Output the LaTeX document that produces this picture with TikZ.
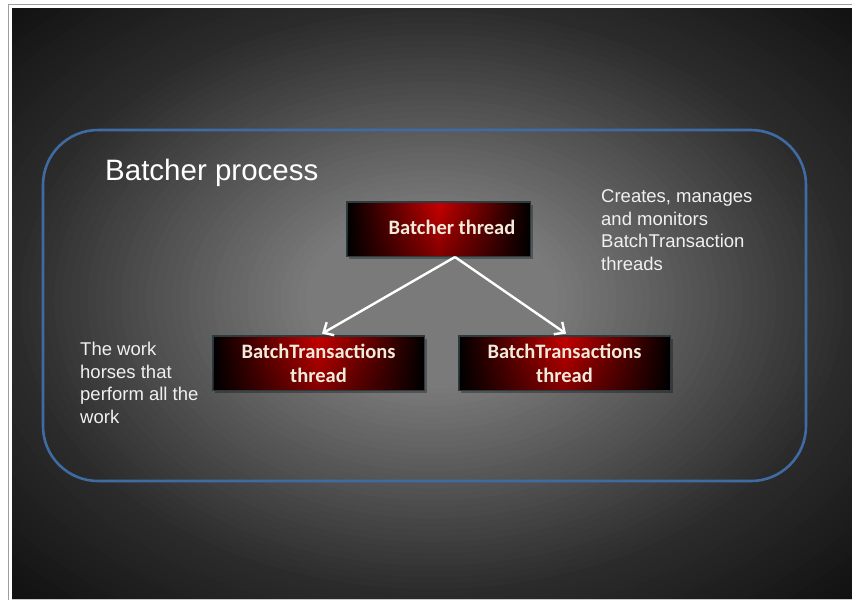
\documentclass[tikz,border=0pt]{standalone}
\usepackage{fontspec}
\setmainfont{Liberation Sans}
\newfontfamily\calib{Carlito}
\usetikzlibrary{arrows.meta,fadings}
\definecolor{frameblue}{RGB}{63,106,162}
\definecolor{boxred}{RGB}{200,0,0}
\definecolor{cream}{RGB}{242,234,218}
\definecolor{boxedge}{RGB}{45,58,64}
\definecolor{edgegray}{gray}{0.62}
\tikzset{
  tbox/.style={draw=boxedge, line width=0.8pt, left color=black, right color=black, middle color=boxred, minimum height=54pt, inner sep=0pt},
  tlabel/.style={text=cream, font=\calib\bfseries\fontsize{20.5pt}{24pt}\selectfont, align=center, inner sep=0pt},
  note/.style={text=white!94!black, font=\fontsize{18.5pt}{22.5pt}\selectfont, align=left, inner sep=0pt, anchor=north west},
  arr/.style={draw=white, line width=2.4pt, -{Straight Barb[length=8pt,width=15pt]}},
  shadowbox/.style={fill=black, opacity=0.3}
}
\begin{document}
\begin{tikzpicture}[x=1pt,y=-1pt]
\useasboundingbox (0,0) rectangle (852,600);
% slide background: stepped radial gradient
\begin{scope}
\clip (12,8) rectangle (852,598);
\fill[black!94!white] (12,8) rectangle (852,598);
\foreach \rr in {1.50,1.48,...,0.02} {
  \pgfmathsetmacro\gval{\rr<=0.3 ? 0.48 : (\rr<=1 ? 0.48-0.443*(\rr-0.3) : 0.17-0.24*(\rr-1))}
  \pgfmathsetmacro\pval{100-100*\gval}
  \pgfmathsetmacro\rxv{420*\rr}
  \pgfmathsetmacro\ryv{295*\rr}
  \fill[black!\pval!white] (432,300) ellipse [x radius=\rxv pt, y radius=\ryv pt];
}
\end{scope}
\draw[edgegray, line width=1.5pt] (8.5,600) -- (8.5,4.5) -- (852,4.5);
\draw[white!80!black, line width=1pt] (12,599.5) -- (852,599.5);
% process frame
\draw[frameblue, line width=2.6pt, rounded corners=55pt] (43,130) rectangle (806,481);
\node[text=white, font=\fontsize{29.5pt}{34pt}\selectfont, anchor=base west, inner sep=0pt] (title) at (105,180) {Batcher process};
% shadows
\fill[shadowbox] (349,205) rectangle (533,259);
\fill[shadowbox] (215,339) rectangle (427,393);
\fill[shadowbox] (461,339) rectangle (673,393);
% boxes
\node[tbox, minimum width=183pt] (bt) at (438.5,229) {};
\node[tbox, minimum width=211pt] (lt) at (318.5,363) {};
\node[tbox, minimum width=211pt] (rt) at (564.5,363) {};
\fill[black, opacity=0.35, path fading=north] (bt.north west) rectangle (bt.south east);
\fill[black, opacity=0.35, path fading=north] (lt.north west) rectangle (lt.south east);
\fill[black, opacity=0.35, path fading=north] (rt.north west) rectangle (rt.south east);
\draw[boxedge, line width=0.8pt] (bt.north west) rectangle (bt.south east);
\draw[boxedge, line width=0.8pt] (lt.north west) rectangle (lt.south east);
\draw[boxedge, line width=0.8pt] (rt.north west) rectangle (rt.south east);
\node[tlabel, anchor=base] (btl) at (452,234) {Batcher thread};
\node[tlabel] (ltl) at (318.5,363.5) {BatchTransactions\\thread};
\node[tlabel] (rtl) at (564.5,363.5) {BatchTransactions\\thread};
% arrows
\coordinate (src) at (455,257);
\draw[arr] (src) -- ([xshift=3.5pt, yshift=2pt]lt.north);
\draw[arr] (src) -- ([xshift=1.5pt, yshift=2pt]rt.north);
% notes
\node[note] (n1) at (601,189.5) {Creates, manages\\and monitors\\BatchTransaction\\threads};
\node[note] (n2) at (80,342) {The work\\horses that\\perform all the\\work};
\end{tikzpicture}
\end{document}
